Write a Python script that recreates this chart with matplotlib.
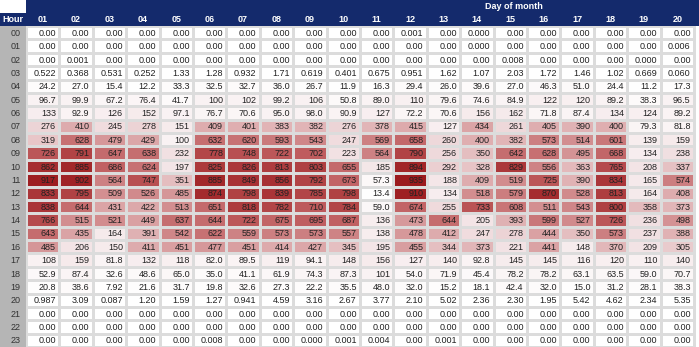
import matplotlib
matplotlib.use("Agg")
import matplotlib.pyplot as plt
import numpy as np
from matplotlib.colors import LinearSegmentedColormap

plt.rcParams['font.family'] = ['Liberation Sans', 'DejaVu Sans']

days = ["%02d" % d for d in range(1, 21)]
hours = ["%02d" % h for h in range(24)]

# tiny values shown as "0.000" in the table are kept as 0.0002
h00 = [0, 0, 0, 0, 0, 0, 0, 0, 0, 0, 0, 0.001, 0, 0.0002, 0, 0, 0, 0, 0, 0]
h01 = [0, 0, 0, 0, 0, 0, 0, 0, 0, 0, 0, 0, 0, 0.0002, 0, 0, 0, 0, 0, 0.006]
h02 = [0, 0.001, 0, 0, 0, 0, 0, 0, 0, 0, 0, 0, 0, 0, 0.008, 0, 0, 0, 0.0002, 0]
h03 = [0.522, 0.368, 0.531, 0.252, 1.33, 1.28, 0.932, 1.71, 0.619, 0.401, 0.675, 0.951, 1.62, 1.07, 2.03, 1.72, 1.46, 1.02, 0.669, 0.060]
h04 = [24.2, 27.0, 15.4, 12.2, 33.3, 32.5, 32.7, 36.0, 26.7, 11.9, 16.3, 29.4, 26.0, 39.6, 27.0, 46.3, 51.0, 24.4, 11.2, 17.3]
h05 = [96.7, 99.9, 67.2, 76.4, 41.7, 100, 102, 99.2, 106, 50.8, 89.0, 110, 79.6, 74.6, 84.9, 122, 120, 89.2, 38.3, 96.5]
h06 = [133, 92.9, 126, 152, 97.1, 76.7, 70.6, 95.0, 98.0, 90.9, 127, 72.2, 70.6, 156, 162, 71.8, 87.4, 134, 124, 89.2]
h07 = [276, 410, 245, 278, 151, 409, 401, 383, 382, 276, 378, 415, 127, 434, 261, 405, 390, 400, 79.3, 81.8]
h08 = [319, 628, 479, 429, 100, 632, 620, 593, 543, 247, 569, 658, 260, 400, 382, 573, 514, 601, 139, 159]
h09 = [726, 791, 647, 638, 232, 778, 748, 722, 702, 223, 564, 790, 256, 350, 642, 628, 495, 668, 134, 238]
h10 = [862, 885, 686, 624, 197, 825, 826, 813, 803, 655, 185, 894, 292, 328, 829, 556, 363, 765, 208, 337]
h11 = [917, 902, 564, 747, 351, 885, 849, 856, 792, 673, 57.3, 935, 188, 409, 519, 725, 390, 834, 165, 574]
h12 = [833, 795, 509, 526, 485, 874, 798, 839, 785, 798, 13.4, 910, 134, 518, 579, 870, 528, 813, 164, 408]
h13 = [838, 644, 431, 422, 513, 651, 818, 782, 710, 784, 59.0, 674, 255, 733, 608, 511, 543, 800, 358, 373]
h14 = [766, 515, 521, 449, 637, 644, 722, 675, 695, 687, 136, 473, 644, 205, 393, 599, 527, 726, 236, 498]
h15 = [643, 435, 164, 391, 542, 622, 559, 573, 573, 557, 138, 478, 412, 247, 278, 444, 350, 573, 237, 388]
h16 = [485, 206, 150, 411, 451, 477, 451, 414, 427, 345, 195, 455, 344, 373, 221, 441, 148, 370, 209, 305]
h17 = [108, 159, 81.8, 132, 118, 82.0, 89.5, 119, 94.1, 148, 156, 127, 140, 92.8, 145, 145, 116, 120, 110, 140]
h18 = [52.9, 87.4, 32.6, 48.6, 65.0, 35.0, 41.1, 61.9, 74.3, 87.3, 101, 54.0, 71.9, 45.4, 78.2, 78.2, 63.1, 63.5, 59.0, 70.7]
h19 = [20.8, 38.6, 7.92, 21.6, 31.7, 19.8, 32.6, 27.3, 22.2, 35.5, 48.0, 32.0, 15.2, 18.1, 42.4, 32.0, 15.0, 31.2, 28.1, 38.3]
h20 = [0.987, 3.09, 0.087, 1.20, 1.59, 1.27, 0.941, 4.59, 3.16, 2.67, 3.77, 2.10, 5.02, 2.36, 2.30, 1.95, 5.42, 4.62, 2.34, 5.35]
h21 = [0] * 20
h22 = [0] * 20
h23 = [0, 0, 0, 0, 0, 0.008, 0, 0, 0.0002, 0.001, 0.004, 0, 0.001, 0, 0, 0, 0, 0, 0, 0]

data = np.array([h00, h01, h02, h03, h04, h05, h06, h07, h08, h09, h10, h11,
                 h12, h13, h14, h15, h16, h17, h18, h19, h20, h21, h22, h23])


def fmt(v):
    if v == 0:
        return "0.00"
    if v < 1:
        return "%.3f" % v
    if v < 10:
        return "%.2f" % v
    if v < 100:
        return "%.1f" % v
    return "%.0f" % v


navy = '#142a6c'
cmap = LinearSegmentedColormap.from_list("reds", ["#ffffff", "#f1e0e2", "#d79a9c", "#bf5d5f", "#9b1a1d"])

W, H = 699, 347
left = 26 / W
hdr = 26 / H
ncols_vis = (W - 26) / 33.4

fig = plt.figure(figsize=(W / 100, H / 100), dpi=100)

ax = fig.add_axes([left, 0, 1 - left, 1 - hdr])
ax.pcolormesh(np.arange(21), np.arange(25), data, cmap=cmap, vmin=0, vmax=935,
              edgecolors='#dcdcdc', linewidth=1.0)
ax.set_xlim(0, ncols_vis)
ax.set_ylim(24, 0)
ax.axis('off')
for i in range(24):
    for j in range(20):
        ax.text(j + 0.9, i + 0.55, fmt(data[i, j]), ha='right', va='center',
                fontsize=6.5, color='#222222')

# column header
hax = fig.add_axes([left, 1 - hdr, 1 - left, hdr], sharex=ax)
hax.set_facecolor(navy)
hax.set_ylim(2, 0)
hax.set_xticks([])
hax.set_yticks([])
for s in hax.spines.values():
    s.set_visible(False)
for j, d in enumerate(days):
    hax.text(j + 0.5, 1.5, d, ha='center', va='center', fontsize=6.5,
             color='white', fontweight='bold')
hax.text(14.6, 0.5, "Day of month", ha='center', va='center', fontsize=6.5,
         color='white', fontweight='bold')

# hour column
rax = fig.add_axes([0, 0, left, 1 - hdr], sharey=ax)
rax.set_facecolor('#b5b5b5')
rax.set_xlim(0, 1)
rax.set_xticks([])
rax.set_yticks([])
for s in rax.spines.values():
    s.set_visible(False)
for i, h in enumerate(hours):
    rax.text(0.6, i + 0.55, h, ha='center', va='center', fontsize=6.5, color='#333333')

cax = fig.add_axes([0, 1 - hdr, left, hdr / 2])
cax.set_facecolor(navy)
cax.set_xticks([])
cax.set_yticks([])
for s in cax.spines.values():
    s.set_visible(False)
cax.text(0.5, 0.5, "Hour", ha='center', va='center', fontsize=6.5,
         color='white', fontweight='bold')

fig.savefig("out.png", dpi=100)
